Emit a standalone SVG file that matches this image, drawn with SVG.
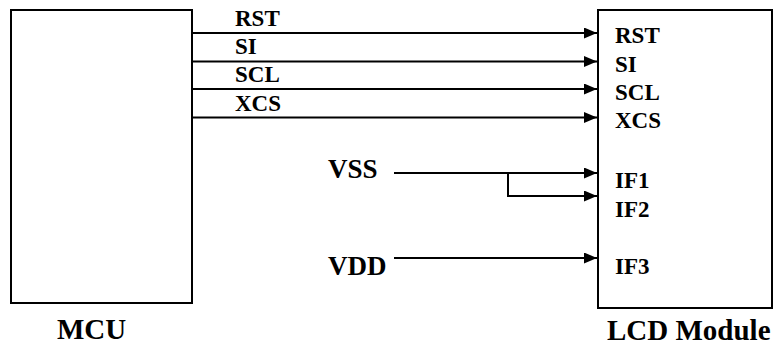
<svg xmlns="http://www.w3.org/2000/svg" width="779" height="346" viewBox="0 0 779 346">
<style>
.box{fill:#fff;stroke:#000;stroke-width:2}
.wire{fill:none;stroke:#000;stroke-width:2}
text{font-family:"Liberation Serif","Times New Roman",serif;font-weight:bold;fill:#000}
.s{font-size:23px}
.m{font-size:27px}
.l{font-size:29px}
</style>
<defs>
<marker id="arr" markerUnits="userSpaceOnUse" markerWidth="14" markerHeight="12" refX="13" refY="5.5" orient="auto">
<path d="M0,0 L13,5.5 L0,11 Z" fill="#000"/>
</marker>
</defs>
<g id="mcu">
<rect class="box" x="11" y="10" width="181" height="293"/>
<text class="l" x="57" y="339">MCU</text>
</g>
<g id="lcd">
<rect class="box" x="598" y="10" width="174" height="298"/>
<text class="s" x="615" y="43">RST</text>
<text class="s" x="615" y="72">SI</text>
<text class="s" x="615" y="100">SCL</text>
<text class="s" x="615" y="128">XCS</text>
<text class="s" x="615" y="188">IF1</text>
<text class="s" x="615" y="217">IF2</text>
<text class="s" x="615" y="274">IF3</text>
<text class="l" x="607" y="340">LCD Module</text>
</g>
<g id="vss">
<text class="m" x="328" y="178">VSS</text>
</g>
<g id="vdd">
<text class="m" x="328" y="275">VDD</text>
</g>
<g id="connectors">
<line class="wire" x1="192" y1="33" x2="597" y2="33" marker-end="url(#arr)"/>
<line class="wire" x1="192" y1="61.5" x2="597" y2="61.5" marker-end="url(#arr)"/>
<line class="wire" x1="192" y1="89" x2="597" y2="89" marker-end="url(#arr)"/>
<line class="wire" x1="192" y1="117.5" x2="597" y2="117.5" marker-end="url(#arr)"/>
<line class="wire" x1="394" y1="173" x2="597" y2="173" marker-end="url(#arr)"/>
<polyline class="wire" points="508,173 508,196 597,196" marker-end="url(#arr)"/>
<line class="wire" x1="394" y1="258" x2="597" y2="258" marker-end="url(#arr)"/>
<text class="s" x="235" y="26">RST</text>
<text class="s" x="235" y="54">SI</text>
<text class="s" x="235" y="82">SCL</text>
<text class="s" x="235" y="111">XCS</text>
</g>
</svg>
